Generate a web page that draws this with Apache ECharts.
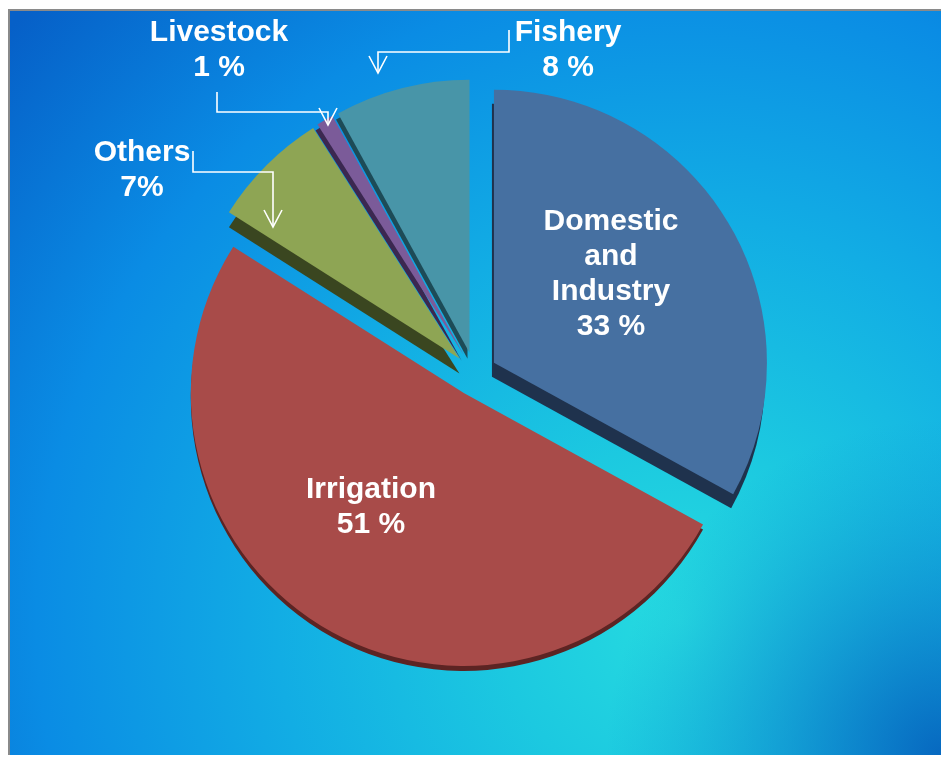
<!DOCTYPE html>
<html>
<head>
<meta charset="utf-8">
<script src="https://cdn.jsdelivr.net/npm/echarts@6/dist/echarts.min.js"></script>
<style>
  html, body { margin: 0; padding: 0; background: #ffffff; }
  #chart { width: 942px; height: 759px; }
</style>
</head>
<body>
<div id="chart"></div>
<script>
// Water use by sector (share of total, %)
const categories = ['Domestic\nand\nIndustry', 'Irrigation', 'Others', 'Livestock', 'Fishery'];
const shares = [33, 51, 7, 1, 8];
// spacing between number and "%" as printed on each label
const percentGap = [' ', ' ', '', ' ', ' '];

// slice styling: top face, darker side, side depth
const faceColors = ['#4670a1', '#a84b49', '#8ea554', '#7b5b99', '#4895a8'];
const sideColors = ['#1f324d', '#5c2423', '#3a4620', '#3b2850', '#1d4b57'];
const sideDepth = [[-2, 14], [0, 5], [0, 15], [-2, 6], [-2, 6]];

// label anchor points (centre of each text block)
const labelSpots = [[611, 274], [371, 507], [142, 170], [219, 50], [568, 50]];

// elbow leaders for the small slices: Others, Livestock, Fishery
const leaders = [
  [[193, 151], [193, 172], [273, 172], [273, 226]],
  [[217, 92], [217, 112], [328, 112], [328, 124]],
  [[509, 30], [509, 52], [378, 52], [378, 72]]
];

const FONT = '"Liberation Sans", Arial, Helvetica, sans-serif';
const FRAME = { x: 9, y: 10, width: 932, height: 745 };

const chart = echarts.init(document.getElementById('chart'), null, { renderer: 'canvas' });

const pieData = categories.map((name, i) => ({
  name: name,
  value: shares[i],
  selected: true,
  itemStyle: {
    color: faceColors[i],
    shadowColor: sideColors[i],
    shadowBlur: 0,
    shadowOffsetX: sideDepth[i][0],
    shadowOffsetY: sideDepth[i][1]
  }
}));

const graphics = [
  {
    type: 'rect', silent: true, z: -20,
    shape: FRAME,
    style: {
      fill: new echarts.graphic.RadialGradient(0.72, 0.82, 1.2, [
        { offset: 0, color: '#26dbe0' },
        { offset: 0.2, color: '#1cc9e0' },
        { offset: 0.45, color: '#12ade4' },
        { offset: 0.72, color: '#0a8ce4' },
        { offset: 1, color: '#0660c8' }
      ])
    }
  },
  {
    type: 'rect', silent: true, z: -19,
    shape: FRAME,
    style: {
      fill: new echarts.graphic.RadialGradient(1, 1, 0.45, [
        { offset: 0, color: 'rgba(6,100,190,0.95)' },
        { offset: 0.45, color: 'rgba(8,112,200,0.5)' },
        { offset: 1, color: 'rgba(10,130,210,0)' }
      ])
    }
  },
  {
    type: 'polyline', silent: true, z: -18,
    shape: { points: [[FRAME.x, FRAME.y + FRAME.height], [FRAME.x, FRAME.y], [FRAME.x + FRAME.width, FRAME.y]] },
    style: { stroke: '#8a8a8a', lineWidth: 2, fill: null }
  }
];

// leader lines with open arrowheads
leaders.forEach(pts => {
  graphics.push({
    type: 'polyline', silent: true, z: 50,
    shape: { points: pts },
    style: { stroke: '#ffffff', lineWidth: 1.6, fill: null }
  });
  const tip = pts[pts.length - 1];
  graphics.push({
    type: 'polyline', silent: true, z: 50,
    shape: { points: [[tip[0] - 9, tip[1] - 16], [tip[0], tip[1] + 1], [tip[0] + 9, tip[1] - 16]] },
    style: { stroke: '#ffffff', lineWidth: 1.6, fill: null }
  });
});

// category name + share text for every slice
categories.forEach((name, i) => {
  graphics.push({
    type: 'text', silent: true, z: 60,
    x: labelSpots[i][0],
    y: labelSpots[i][1],
    style: {
      text: `${name}\n${shares[i]}${percentGap[i]}%`,
      fill: '#ffffff',
      fontFamily: FONT,
      fontSize: 30,
      fontWeight: 'bold',
      lineHeight: 35,
      align: 'center',
      verticalAlign: 'middle'
    }
  });
});

chart.setOption({
  animation: false,
  backgroundColor: '#ffffff',
  graphic: graphics,
  series: [{
    type: 'pie',
    center: [475, 374],
    radius: 273,
    startAngle: 90,
    clockwise: true,
    selectedMode: 'multiple',
    selectedOffset: 22,
    emphasis: { disabled: true },
    select: { itemStyle: { borderWidth: 0 } },
    label: { show: false },
    labelLine: { show: false },
    data: pieData
  }]
});
</script>
</body>
</html>
